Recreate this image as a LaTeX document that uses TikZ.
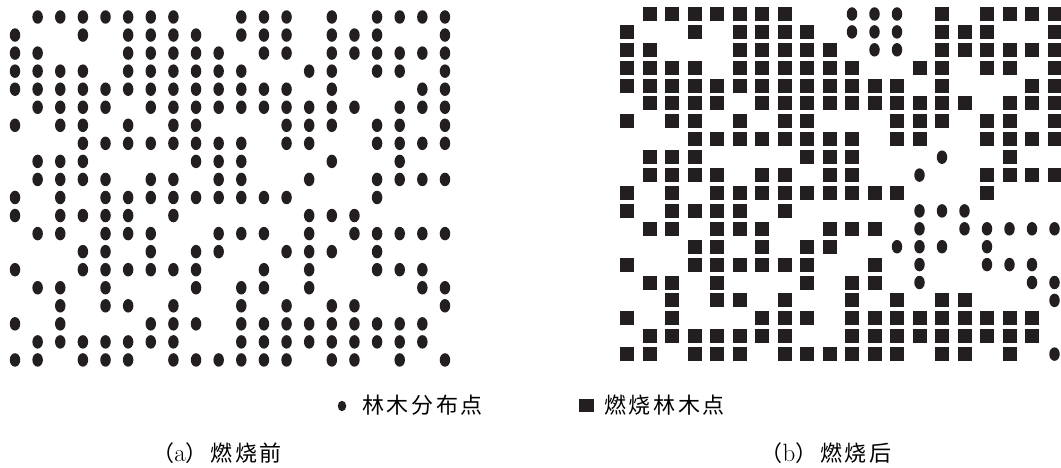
\documentclass[tikz,border=0pt]{standalone}
\usepackage{fontspec}
\usepackage{tikz}
\usetikzlibrary{positioning,shapes.geometric}
\newfontfamily\cjk[LetterSpace=12]{Noto Sans CJK SC}
\definecolor{inkblack}{HTML}{231F20}
% trees that are still standing after the fire (row-column)
\def\unburntlist{,0-10,0-11,0-12,1-10,1-11,1-12,2-11,2-12,8-14,9-13,11-13,11-14,11-15,12-13,12-15,12-16,12-17,12-18,12-19,13-12,13-13,13-14,13-16,14-13,14-16,14-17,14-18,15-13,15-18,15-19,16-19,19-19,}
\makeatletter
\newcommand\ifunburnt[3]{\edef\burn@tmp{\noexpand\in@{,#1,}{\unburntlist}}\burn@tmp\ifin@#2\else#3\fi}
\makeatother
\newcommand\capletter[1]{{\fontsize{25}{25}\selectfont\rmfamily #1}}

\begin{document}
\begin{tikzpicture}[x=1pt,y=-1pt,
 tree/.style={ellipse,fill=inkblack,inner sep=0pt,minimum width=10.5pt,minimum height=13.5pt},
 burnt/.style={rectangle,fill=inkblack,inner sep=0pt,minimum size=14pt},
 keytree/.style={tree,minimum width=8.5pt,minimum height=10.5pt},
 keyburnt/.style={burnt,minimum width=15pt,minimum height=13pt},
 label/.style={inner sep=0pt,font=\fontsize{22}{22}\selectfont\cjk}]
\useasboundingbox (0,0) rectangle (1061,468);
% forest grid, before (a) and after (b) burning
\foreach \r/\cols in {
 0/{1,2,3,4,5,6,7,10,11,12,14,16,17,18,19},
 1/{0,3,5,6,7,8,10,11,12,14,15,16,19},
 2/{0,1,5,6,7,8,9,11,12,14,15,16,17,18,19},
 3/{0,1,2,3,5,6,7,8,9,10,13,14,16,17,19},
 4/{0,1,2,3,4,5,6,7,8,9,10,11,12,14,18,19},
 5/{1,2,3,4,6,7,8,9,10,11,12,13,14,15,17,18,19},
 6/{0,2,3,5,7,8,12,13,14,16,17,19},
 7/{3,4,5,6,7,8,9,10,12,13,16,17,18,19},
 8/{1,2,3,8,9,10,14,17},
 9/{1,2,3,4,6,7,9,10,13,16,17,18,19},
 10/{0,2,4,5,6,7,8,9,10,11,12,16},
 11/{0,2,3,4,5,7,13,14,15},
 12/{1,2,4,5,6,9,10,11,13,15,16,17,18,19},
 13/{3,4,6,8,9,12,13,14,16},
 14/{0,3,4,5,6,7,8,11,13,16,17,18},
 15/{1,2,4,8,10,11,13,18,19},
 16/{2,4,5,7,10,12,14,15,19},
 17/{0,2,6,7,8,10,11,12,13,14,15,16,17,18},
 18/{1,2,3,4,5,6,7,10,11,12,13,14,15,16,17,18},
 19/{0,1,3,4,5,7,8,9,10,11,12,14,15,17,19}}
 \foreach \c in \cols {
 \node[tree] (a-\r-\c) at ({15+22.63*\c},{17+18.05*\r}) {};
 \ifunburnt{\r-\c}
 {\node[tree] (b-\r-\c) at ({627+22.5*\c},{14+17.9*\r}) {};}
 {\node[burnt] (b-\r-\c) at ({627+22.5*\c},{14+17.9*\r}) {};}
 };
% legend
\node[keytree] (keya) at (342,406) {};
\node[label,anchor=west] (keyatxt) at (362,405) {林木分布点};
\node[keyburnt] (keyb) at (586,405) {};
\node[label,anchor=west] (keybtxt) at (604,405) {燃烧林木点};
% captions
\node[label] (capa) at (217,453) {（\capletter{a}）燃烧前};
\node[label] (capb) at (826,453) {（\capletter{b}）燃烧后};
\end{tikzpicture}
\end{document}
